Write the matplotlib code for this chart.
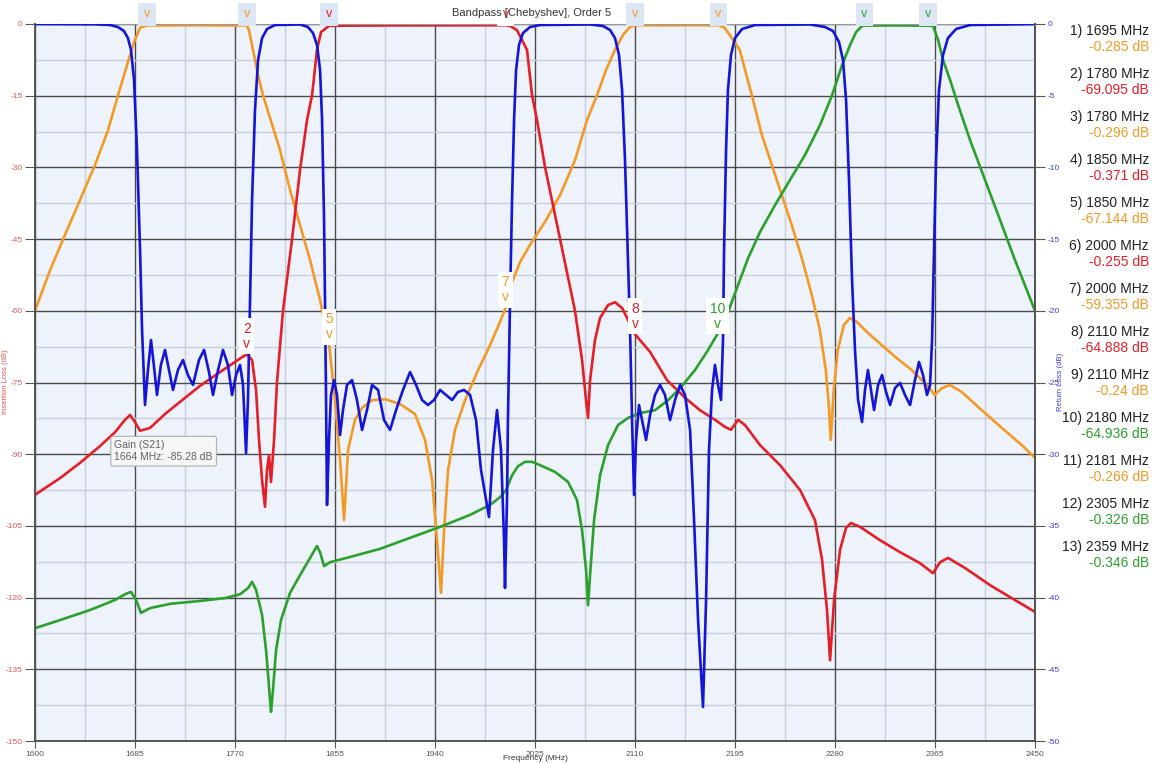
import matplotlib
matplotlib.use("Agg")
import matplotlib.pyplot as plt
from matplotlib.ticker import MultipleLocator

plt.rcParams['font.family'] = ['Liberation Sans', 'DejaVu Sans']
plt.rcParams['axes.unicode_minus'] = False

# ---- data ----
orange_f = [1600, 1612.8, 1625.5, 1638.3, 1651, 1662.1, 1670.6, 1678.2, 1684.2, 1689.3, 1695,
            1715, 1736, 1757.3, 1780, 1781.9, 1785.3, 1789.6, 1793.8, 1799.8, 1808.3, 1816.8,
            1825.3, 1833.8, 1842.3, 1850, 1855, 1859.3, 1862.7, 1866.1, 1872, 1878, 1886.5,
            1897.5, 1910.3, 1923, 1931.5, 1937.5, 1941.7, 1945.1, 1947.7, 1951.1, 1957, 1965.5,
            1976.6, 1986.8, 1995.3, 2000, 2005.5, 2012.3, 2020.8, 2033.5, 2046.3, 2059, 2069.2,
            2077.7, 2085.4, 2093, 2099.8, 2105.8, 2110, 2131.3, 2156.8, 2181, 2186.2, 2192.2,
            2199, 2209.3, 2217.8, 2226.3, 2234.8, 2243.3, 2251.8, 2260.3, 2267.1, 2272.2, 2274.7,
            2276.4, 2278.9, 2282.4, 2287.5, 2292.6, 2298.5, 2307, 2319.8, 2332.5, 2345.3, 2358,
            2364.8, 2370.8, 2377.6, 2387.8, 2404.8, 2421.8, 2438.8, 2450]
orange_db = [-60, -51.5, -44.1, -36.8, -29.5, -22.2, -14.9, -8.6, -3.8, -0.8, -0.29,
             -0.3, -0.27, -0.3, -0.3, -1.3, -5.4, -10.7, -14.9, -19.7, -26.4, -34.7,
             -42.1, -49.4, -57.7, -67.1, -78.7, -91.2, -103.8, -89.1, -82.8, -80.3, -78.7,
             -78.5, -79.5, -81.6, -87, -95.4, -108, -119, -105.9, -93.3, -84.9, -78.7,
             -72.4, -67.2, -62.3, -59.4, -54, -49.8, -46.2, -41.4, -35.8, -28.5, -20.1,
             -14.9, -9.6, -5.4, -2.3, -0.6, -0.24, -0.28, -0.25, -0.27, -0.8, -2.9,
             -5.4, -14.9, -23.2, -29.5, -35.8, -42.1, -49, -56.7, -64, -72.4, -79.7,
             -87, -76.6, -68.2, -63, -61.5, -62.3, -64.4, -67.2, -69.9, -72.4, -75.5,
             -77.6, -76.2, -75.5, -77, -80.8, -84.5, -88.1, -90.8]

red_f = [1600, 1621.3, 1638.3, 1655.3, 1668, 1676.5, 1680.8, 1685, 1689.3, 1697.8, 1710.5,
         1725, 1740.3, 1757.3, 1770, 1776, 1780, 1784.5, 1787.9, 1790.4, 1793, 1795.5, 1797.2,
         1798.9, 1800.6, 1803.2, 1805.7, 1810.8, 1818.5, 1825.3, 1831.2, 1835.5, 1839.7,
         1843.1, 1850, 1900, 1950, 2000, 2003.8, 2009.7, 2018.2, 2022.5, 2026.7, 2033.5,
         2046.3, 2059, 2065, 2068.4, 2070.1, 2071.8, 2076, 2080.3, 2087.1, 2093, 2099, 2104.1,
         2110, 2122.8, 2137.2, 2152.5, 2165.3, 2178, 2186.5, 2191.6, 2197.6, 2203.5, 2216.3,
         2233.3, 2250.3, 2263, 2269, 2273.2, 2275.8, 2279.2, 2284.3, 2289.4, 2293.6, 2301.3,
         2318.3, 2335.3, 2352.3, 2363.3, 2369.3, 2376.1, 2390.5, 2411.8, 2428.8, 2450]
red_db = [-98.5, -95, -91.8, -88.3, -85.4, -82.8, -81.8, -83.3, -85.1, -84.5, -81.6,
          -78.7, -75.7, -72.8, -70.7, -69.7, -69.1, -70.3, -76.6, -87, -95.4, -101, -93.3,
          -90.2, -95.8, -87, -74.9, -60, -45, -30.5, -20.1, -14.9, -5.4,
          -1.7, -0.37, -0.3, -0.28, -0.26, -0.4, -1.3, -5.4, -14.9, -20.1, -29.9,
          -45, -60, -70.3, -78.7, -82.4, -74.5, -66.1, -61.5, -58.8, -58.2, -59.4, -61.9,
          -64.9, -68.6, -74.5, -78.2, -80.8, -82.8, -84.3, -84.9, -82.8, -83.9, -88.1,
          -92.3, -97.5, -103.8, -112.1, -122.6, -133.1, -120.5, -110, -105.4, -104.4, -105.2,
          -108, -110.5, -112.8, -114.9, -112.6, -111.7, -113.8, -117.4, -119.9, -123]

green_f = [1600, 1621.3, 1646.8, 1668, 1676.5, 1681.6, 1685.9, 1690.1, 1697.8, 1714.8, 1740.3,
           1761.5, 1774.3, 1781.1, 1784.5, 1787.9, 1793, 1796.4, 1799.8, 1800.6, 1802.3, 1804.9,
           1809.1, 1816.8, 1825.3, 1833.8, 1839.7, 1842.3, 1845.7, 1850.8, 1867.8, 1893.3,
           1918.8, 1944.3, 1969.8, 1986.8, 1995.3, 2000.4, 2005.5, 2010.6, 2016.5, 2022.5,
           2029.3, 2042, 2053.1, 2060.7, 2065, 2068.4, 2070.1, 2071.8, 2075.2, 2080.3, 2087.1,
           2095.6, 2104.1, 2114.3, 2127, 2138.1, 2148.3, 2161, 2172.1, 2180, 2189.1, 2197.6,
           2206.1, 2216.3, 2229, 2241.8, 2254.5, 2267.3, 2277.5, 2286, 2292.8, 2297.9, 2303,
           2305, 2330, 2359, 2363.3, 2367.6, 2371.8, 2377.8, 2384.6, 2394.8, 2407.5, 2420.3,
           2433, 2450]
green_db = [-126.4, -124.7, -122.6, -120.5, -119.3, -118.8, -120.5, -123.2, -122.2, -121.3, -120.7,
            -120.1, -119.3, -118, -116.7, -118.4, -123.6, -131, -141.4, -143.9, -139.3, -131,
            -124.7, -119, -115.3, -111.7, -109.2, -110.5, -113.4, -112.6, -111.5, -109.8,
            -107.5, -105.2, -102.7, -100.6, -99, -97.5, -94.4, -92.5, -91.6, -91.6,
            -92.3, -93.7, -95.8, -99.6, -105.9, -114.2, -121.6, -115.3, -103.8, -94.4, -88.1,
            -83.9, -82.4, -81.4, -80.8, -78.7, -76.2, -72.4, -68.2, -64.9, -60.3, -54.6,
            -49, -43.5, -37.9, -32.6, -27.4, -21.1, -14.9, -8.6, -4.4, -1.7, -0.4,
            -0.33, -0.3, -0.35, -0.4, -3.3, -7.5, -11.7, -16.9, -24.3, -32.6, -41,
            -49.4, -60]

# return loss, right axis
blue_f = [1600, 1651, 1663.8, 1670.5, 1675.6, 1679, 1681.6, 1684.2, 1686.7, 1689.3, 1691,
          1693.5, 1696, 1698.6, 1701, 1703.7, 1707, 1710.5, 1713.9, 1717.3, 1721.5, 1725.8,
          1730, 1734.3, 1739.4, 1743.7, 1747.9, 1751.3, 1755.6, 1759.8, 1764, 1767.5, 1770.9,
          1774.3, 1776.8, 1779.4, 1781, 1782.8, 1784.5, 1787, 1789.6, 1793, 1797.2, 1804,
          1825.3, 1832, 1836.3, 1839.7, 1842.3, 1844, 1845.7, 1846.5, 1847.4, 1848.2, 1849.9,
          1851.6, 1854.2, 1856.7, 1859.3, 1861.8, 1865.2, 1869.5, 1873.7, 1878, 1882.2, 1886.5,
          1891.6, 1896.7, 1901.8, 1906.9, 1912.8, 1918.8, 1923.9, 1929, 1934, 1939.2, 1944.3,
          1949.4, 1954.5, 1959.5, 1964.7, 1969.8, 1974.9, 1979.1, 1985.9, 1989.3, 1992.7,
          1996.1, 1998.7, 1999.5, 2001.2, 2002, 2003.8, 2005.5, 2007.2, 2008.9, 2011.4, 2014.8,
          2020.8, 2029.3, 2071.8, 2082.8, 2088.8, 2093, 2096.4, 2099, 2101.5, 2104, 2105.8,
          2107.5, 2109.2, 2110.9, 2113.4, 2116, 2119.4, 2122.8, 2127, 2131.3, 2135.5, 2139.8,
          2144, 2148.3, 2152.5, 2156.8, 2160.2, 2163.6, 2167.8, 2170.4, 2172.9, 2175.5, 2178,
          2180.6, 2183.1, 2184.8, 2185.7, 2187.4, 2189, 2191.6, 2195, 2201, 2212, 2258.8,
          2271.5, 2278.3, 2283.4, 2286.8, 2289.4, 2291.9, 2294.5, 2297, 2299.6, 2303, 2305.5,
          2308, 2310.6, 2313.2, 2316.6, 2320, 2323.4, 2326.8, 2331, 2335.3, 2339.5, 2343.8,
          2348, 2351.4, 2354.8, 2358.2, 2360.8, 2362.5, 2364.2, 2365.9, 2368.4, 2371.8, 2376,
          2382.9, 2394.8, 2450]
blue_rl = [0, -0.02, -0.07, -0.21, -0.49, -0.98, -1.81, -3.91, -8.79, -15.76, -21.34,
           -26.57, -24.13, -22.04, -23.78, -25.87, -23.78, -22.73, -24.13, -25.52, -24.13, -23.43,
           -24.48, -25.17, -23.43, -22.73, -24.27, -25.87, -24.13, -22.73, -23.78, -25.87, -24.48,
           -23.78, -25.17, -29.92, -26.22, -19.25, -12.27, -6.0, -2.51, -0.98, -0.35, -0.07,
           -0.03, -0.21, -0.63, -1.46, -3.21, -6.69, -13.67, -19.25, -26.22, -33.54, -29.01,
           -25.87, -24.83, -25.87, -28.66, -26.92, -25.17, -24.83, -26.22, -28.31, -26.92, -25.17,
           -25.52, -27.62, -28.31, -26.92, -25.52, -24.27, -25.17, -26.22, -26.57, -26.22, -25.52,
           -25.87, -26.22, -25.66, -25.52, -25.87, -27.62, -31.1, -34.38, -29.71, -26.92,
           -29.71, -35.98, -39.33, -33.19, -27.62, -19.25, -12.27, -6.69, -3.21, -1.46, -0.63,
           -0.21, -0.07, -0.03, -0.14, -0.42, -0.98, -2.16, -4.6, -9.48, -16.46, -21.34,
           -27.62, -32.85, -29.01, -26.57, -27.62, -29.01, -27.27, -25.87, -25.17, -25.87, -27.62,
           -26.22, -25.17, -25.87, -28.31, -34.59, -41.56, -47.63, -40.17, -29.71, -25.52, -23.78,
           -25.17, -26.22, -22.04, -15.76, -8.79, -4.6, -2.16, -0.98, -0.35, -0.07, -0.03,
           -0.21, -0.49, -1.26, -2.51, -5.3, -10.88, -17.85, -22.73, -26.22, -27.75, -25.52,
           -24.13, -25.52, -26.92, -25.17, -24.48, -25.66, -26.57, -25.38, -25.03, -25.87, -26.57,
           -24.83, -23.57, -24.48, -25.87, -25.17, -22.04, -15.76, -9.48, -4.6, -2.16, -0.98,
           -0.35, -0.07, 0]

# markers
mk_freq = [1695, 1780, 1780, 1850, 1850, 2000, 2000, 2110, 2110, 2180, 2181, 2305, 2359]
mk_db = [-0.285, -69.095, -0.296, -0.371, -67.144, -0.255, -59.355, -64.888, -0.24,
         -64.936, -0.266, -0.326, -0.346]
mk_trace = ['orange', 'red', 'orange', 'red', 'orange', 'red', 'orange', 'red', 'orange',
            'green', 'orange', 'green', 'green']

tip_freq = 1664
tip_db = -85.28

x_ticks = [1600, 1685, 1770, 1855, 1940, 2025, 2110, 2195, 2280, 2365, 2450]

colors = {'orange': '#f39a26', 'red': '#e41f28', 'green': '#2ca02c', 'blue': '#1515d8'}

W, H = 1161, 763
fig = plt.figure(figsize=(W / 100, H / 100), dpi=100)
ax = fig.add_axes([35 / W, 1 - 741 / H, 1000 / W, 717 / H])
ax.set_facecolor('#edf2fb')
ax.set_xlim(1600, 2450)
ax.set_ylim(-150, 0)
ax.set_xticks(x_ticks)
ax.set_xticks([(a + b) / 2 for a, b in zip(x_ticks[:-1], x_ticks[1:])], minor=True)
ax.yaxis.set_major_locator(MultipleLocator(15))
ax.yaxis.set_minor_locator(MultipleLocator(7.5))
ax.grid(which='minor', color='#c8cfdb', lw=1.0)
ax.grid(which='major', color='#4a4a4a', lw=1.0)
ax.set_axisbelow(True)
ax.tick_params(which='minor', length=0)
ax.tick_params(axis='y', which='major', labelsize=6, labelcolor='#e05555', color='#555555',
               length=7, pad=2)
ax.tick_params(axis='x', which='major', labelsize=6, labelcolor='#555555', color='#555555',
               length=5, pad=2)
for s in ax.spines.values():
    s.set_color('#555555')
    s.set_linewidth(1.4)
ax.spines['top'].set_color('#999999')
ax.spines['top'].set_linewidth(0.8)

ax.plot(orange_f, orange_db, color=colors['orange'], lw=1.9)
ax.plot(red_f, red_db, color=colors['red'], lw=1.9)
ax.plot(green_f, green_db, color=colors['green'], lw=1.9)

ax2 = ax.twinx()
ax2.set_ylim(-50, 0)
ax2.yaxis.set_major_locator(MultipleLocator(5))
ax2.tick_params(axis='y', labelsize=6, labelcolor='#3a3ae0', color='#555555', length=7, pad=2)
ax2.spines['right'].set_color('#555555')
ax2.spines['right'].set_linewidth(1.4)
for k in ['left', 'top', 'bottom']:
    ax2.spines[k].set_visible(False)
ax2.plot(blue_f, blue_rl, color=colors['blue'], lw=1.9)

# axis titles
fig.text(535 / W, 1 - 759 / H, 'Frequency (MHz)', ha='center', va='center', fontsize=6, color='#333333')
fig.text(6 / W, 1 - 382 / H, 'Insertion Loss (dB)', ha='center', va='center', rotation=90,
         fontsize=5.5, color='#e05555')
fig.text(1061 / W, 1 - 382 / H, 'Return Loss (dB)', ha='center', va='center', rotation=90,
         fontsize=5.5, color='#3a3ae0')

# title
fig.text(532 / W, 1 - 13 / H, 'Bandpass [Chebyshev], Order 5', ha='center', va='center',
         fontsize=8, color='#333333')

# markers
for i, (f, d, t) in enumerate(zip(mk_freq, mk_db, mk_trace)):
    c = colors[t]
    if d > -1:
        # marker near 0 dB: drawn in a box above the plot
        fc = 'white' if f == 2000 else '#dde6f5'
        ax2.annotate('v', xy=(f, 0), xycoords=ax.transData, xytext=(0, 7), textcoords='offset points',
                     ha='center', va='center', fontsize=9, color=c, annotation_clip=False,
                     bbox=dict(boxstyle='square,pad=0.45', fc=fc, ec='none'))
    else:
        # number over a "v", both on one white patch
        ax2.annotate('%d\nv' % (i + 1), xy=(f, d), xycoords=ax.transData, xytext=(0, 2.5),
                     textcoords='offset points', ha='center', va='bottom', fontsize=10,
                     color=c, zorder=5, linespacing=1.1,
                     bbox=dict(boxstyle='square,pad=0.25', fc='white', ec='none'))

# tooltip
ax2.annotate('Gain (S21)\n%d MHz: %.2f dB' % (tip_freq, tip_db), xy=(tip_freq, tip_db), xycoords=ax.transData,
             xytext=(3, -6), textcoords='offset points', ha='left', va='top', fontsize=7.5,
             color='#606060', linespacing=1.3, zorder=6,
             bbox=dict(boxstyle='round,pad=0.35,rounding_size=0.2', fc='#f6f6f6', ec='#b0b0b0', lw=0.8))

# marker readout on the right
for i, (f, d, t) in enumerate(zip(mk_freq, mk_db, mk_trace)):
    y1 = 31 + 43 * i
    fig.text(1149 / W, 1 - y1 / H, '%d) %d MHz' % (i + 1, f), ha='right', va='center',
             fontsize=10, color='#222222')
    fig.text(1149 / W, 1 - (y1 + 16) / H, '%s dB' % repr(d), ha='right', va='center',
             fontsize=10, color=colors[t])

fig.savefig('out.png', dpi=100)
